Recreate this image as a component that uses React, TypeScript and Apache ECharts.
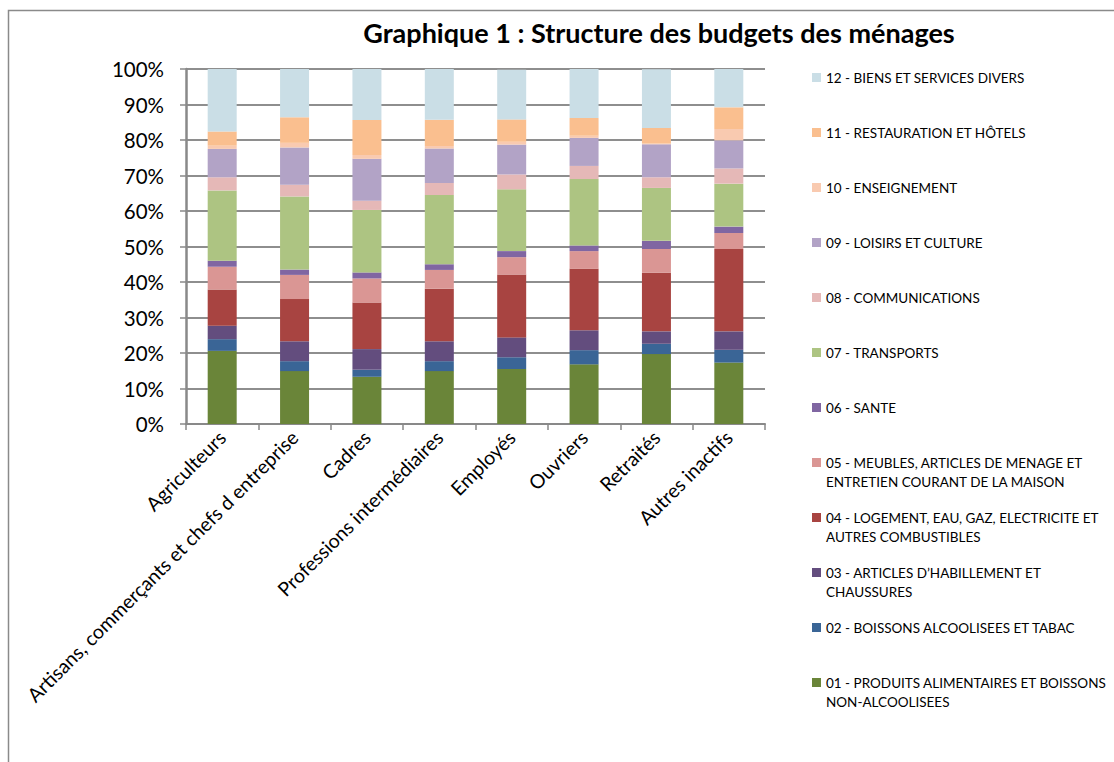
import React, { useEffect, useRef } from "react";
import * as echarts from "echarts";

const categories = [
  "Agriculteurs",
  "Artisans, commerçants et chefs d entreprise",
  "Cadres",
  "Professions intermédiaires",
  "Employés",
  "Ouvriers",
  "Retraités",
  "Autres inactifs",
];

const seriesNames = [
  "01 - PRODUITS ALIMENTAIRES ET BOISSONS NON-ALCOOLISEES",
  "02 - BOISSONS ALCOOLISEES ET TABAC",
  "03 - ARTICLES D’HABILLEMENT ET CHAUSSURES",
  "04 - LOGEMENT, EAU, GAZ, ELECTRICITE ET AUTRES COMBUSTIBLES",
  "05 - MEUBLES, ARTICLES DE MENAGE ET ENTRETIEN COURANT DE LA MAISON",
  "06 - SANTE",
  "07 - TRANSPORTS",
  "08 - COMMUNICATIONS",
  "09 - LOISIRS ET CULTURE",
  "10 - ENSEIGNEMENT",
  "11 - RESTAURATION ET HÔTELS",
  "12 - BIENS ET SERVICES DIVERS",
];

const legendLabels = [
  "01 - PRODUITS ALIMENTAIRES ET BOISSONS\nNON-ALCOOLISEES",
  "02 - BOISSONS ALCOOLISEES ET TABAC",
  "03 - ARTICLES D’HABILLEMENT ET\nCHAUSSURES",
  "04 - LOGEMENT, EAU, GAZ, ELECTRICITE ET\nAUTRES COMBUSTIBLES",
  "05 - MEUBLES, ARTICLES DE MENAGE ET\nENTRETIEN COURANT DE LA MAISON",
  "06 - SANTE",
  "07 - TRANSPORTS",
  "08 - COMMUNICATIONS",
  "09 - LOISIRS ET CULTURE",
  "10 - ENSEIGNEMENT",
  "11 - RESTAURATION ET HÔTELS",
  "12 - BIENS ET SERVICES DIVERS",
];

// shares in % per category (same order as categories)
const s01 = [20.6, 14.9, 13.3, 14.9, 15.5, 16.8, 19.7, 17.3];
const s02 = [3.3, 2.8, 2.0, 2.8, 3.3, 4.0, 2.9, 3.6];
const s03 = [3.8, 5.6, 5.8, 5.6, 5.6, 5.6, 3.5, 5.2];
const s04 = [10.2, 11.9, 13.1, 14.8, 17.7, 17.3, 16.5, 23.2];
const s05 = [6.4, 6.8, 6.8, 5.3, 4.9, 5.0, 6.7, 4.5];
const s06 = [1.7, 1.5, 1.7, 1.6, 1.7, 1.6, 2.3, 1.8];
const s07 = [19.8, 20.6, 17.6, 19.5, 17.4, 18.7, 14.9, 12.1];
const s08 = [3.7, 3.3, 2.6, 3.4, 4.2, 3.7, 3.0, 4.3];
const s09 = [8.0, 10.5, 11.8, 9.7, 8.4, 7.9, 9.3, 7.9];
const s10 = [0.9, 1.3, 1.1, 0.7, 0.8, 0.6, 0.2, 3.2];
const s11 = [4.0, 7.2, 9.8, 7.4, 6.3, 5.0, 4.4, 6.1];
const s12 = [17.6, 13.6, 14.4, 14.3, 14.0, 13.8, 16.5, 10.8];

const seriesData = [s01, s02, s03, s04, s05, s06, s07, s08, s09, s10, s11, s12];

const colors = [
  "#6A8539",
  "#3A6596",
  "#634D7E",
  "#A84441",
  "#DA9694",
  "#8066A2",
  "#ADC482",
  "#E5B8B7",
  "#B2A3C6",
  "#F9CAB0",
  "#FABF8F",
  "#CADEE6",
];

const yTicks = [0, 10, 20, 30, 40, 50, 60, 70, 80, 90, 100];

const FONT = "Lato";

// square at the top of a 9x28 box (so the icon lines up with the first text line)
const TOP_SQUARE = "path://M0,0h9v9h-9z M0,28h0.001v0.001h-0.001z";

export default function App() {
  const ref = useRef<HTMLDivElement>(null);

  useEffect(() => {
    document.body.style.margin = "0";
    if (!ref.current) return;
    const chart = echarts.init(ref.current, undefined, { renderer: "svg" });

    const legends = seriesNames.map((name, i) => {
      const slot = 11 - i; // 0 = top
      const iconCenter = 77.5 + slot * 55;
      const twoLines = legendLabels[i].includes("\n");
      return {
        data: [name],
        orient: "vertical",
        left: 812,
        top: iconCenter - 9.5,
        padding: 0,
        itemGap: 0,
        itemWidth: 9,
        itemHeight: twoLines ? 28 : 9,
        icon: twoLines ? TOP_SQUARE : "rect",
        selectedMode: false,
        formatter: () => legendLabels[i],
        textStyle: {
          fontFamily: FONT,
          fontSize: 13.5,
          color: "#000",
          lineHeight: 19,
        },
      };
    });

    chart.setOption({
      animation: false,
      color: colors,
      textStyle: { fontFamily: FONT },
      title: {
        text: "Graphique 1 : Structure des budgets des ménages",
        left: 654,
        top: 14,
        textAlign: "center",
        textStyle: {
          fontFamily: FONT,
          fontSize: 27,
          fontWeight: "bold",
          color: "#000",
        },
      },
      legend: legends,
      grid: {
        left: 186,
        top: 69,
        width: 579,
        height: 355,
        containLabel: false,
      },
      xAxis: {
        type: "category",
        data: categories,
        axisLine: { lineStyle: { color: "#898989", width: 2 } },
        axisTick: {
          show: true,
          length: 6,
          alignWithLabel: false,
          lineStyle: { color: "#898989", width: 1.5 },
        },
        axisLabel: {
          rotate: 45,
          interval: 0,
          fontSize: 19.5,
          fontFamily: FONT,
          color: "#000",
          margin: 10,
        },
      },
      yAxis: {
        type: "value",
        min: 0,
        max: 100,
        interval: 10,
        axisLine: { show: true, lineStyle: { color: "#898989", width: 2.5 } },
        axisTick: {
          show: true,
          length: 6,
          lineStyle: { color: "#898989", width: 1.5 },
        },
        splitLine: { lineStyle: { color: "#8E8E8E", width: 2 } },
        axisLabel: {
          formatter: (v: number) => (yTicks.includes(v) ? v + "%" : ""),
          fontSize: 20.5,
          fontFamily: FONT,
          color: "#000",
          margin: 22,
        },
      },
      series: seriesNames.map((name, i) => ({
        name,
        type: "bar",
        stack: "total",
        barWidth: 29,
        data: seriesData[i],
        itemStyle: { color: colors[i] },
        emphasis: { disabled: true },
      })),
      graphic: [
        {
          type: "rect",
          shape: { x: 8.5, y: 10.5, width: 1200, height: 800 },
          style: { fill: "none", stroke: "#8A8A8A", lineWidth: 1.5 },
          silent: true,
        },
      ],
    });

    return () => chart.dispose();
  }, []);

  return <div ref={ref} style={{ width: 1114, height: 762 }} />;
}
